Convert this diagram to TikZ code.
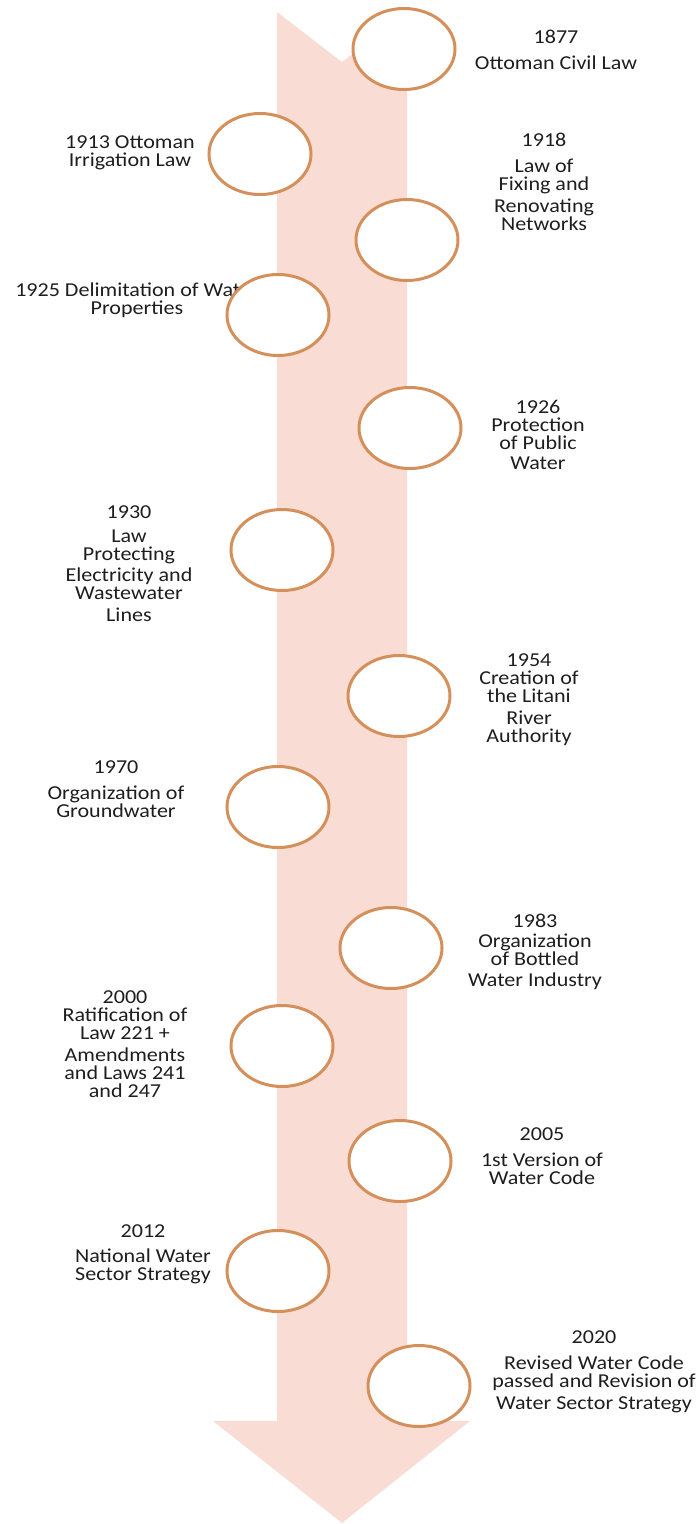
\documentclass[tikz,border=0pt]{standalone}
\usepackage{fontspec}
\setmainfont{Carlito}[FakeStretch=1.12]
\usetikzlibrary{shapes.geometric}
\definecolor{arrowpink}{HTML}{F9DDD5}
\definecolor{ringorange}{HTML}{D48F5B}
\definecolor{labelgray}{HTML}{1E1E1E}

\begin{document}
\begin{tikzpicture}[x=1pt, y=-1pt,
		ring/.style={ellipse, draw=ringorange, line width=3pt, fill=white, minimum width=102pt, minimum height=81pt, inner sep=0pt},
		yearlabel/.style={align=center, text=labelgray, inner sep=0pt, font=\fontsize{19.7}{18}\selectfont}]
		%%%%% START %%%%%
		
		\useasboundingbox (0, 0) rectangle (700, 1524);
		
		% the big arrow
		\fill[arrowpink] (277, 12) -- (342, 62) -- (407, 12) -- (407, 1421) -- (470, 1421)
			-- (342, 1523) -- (213, 1421) -- (277, 1421) -- cycle;
		
		% labels, right side
		\node[yearlabel] (t1877) at (556, 50) {1877\\[8pt]Ottoman Civil Law};
		\node[yearlabel] (t1918) at (544, 182) {1918\\[8pt]Law of\\Fixing and\\[4pt]Renovating\\Networks};
		\node[yearlabel] (t1926) at (538, 435) {1926\\Protection\\of Public\\[2pt]Water};
		\node[yearlabel] (t1954) at (529, 700) {1954\\Creation of\\the Litani\\[4pt]River\\Authority};
		\node[yearlabel] (t1983) at (535, 952) {1983\\[2pt]Organization\\of Bottled\\[3pt]Water Industry};
		\node[yearlabel] (t2005) at (542, 1156) {2005\\[8pt]1st Version of\\Water Code};
		\node[yearlabel] (t2020) at (594, 1372) {2020\\[8pt]Revised Water Code\\passed and Revision of\\[4pt]Water Sector Strategy};
		
		% labels, left side
		\node[yearlabel] (t1913) at (130, 153) {1913 Ottoman\\Irrigation Law};
		\node[yearlabel] (t1925) at (137, 300) {1925 Delimitation of Water\\Properties};
		\node[yearlabel] (t1930) at (129, 564) {1930\\[6pt]Law\\Protecting\\[3pt]Electricity and\\Wastewater\\[4pt]Lines};
		\node[yearlabel] (t1970) at (116, 789) {1970\\[8pt]Organization of\\Groundwater};
		\node[yearlabel] (t2000) at (125, 1044) {2000\\Ratification of\\Law 221 +\\[4pt]Amendments\\and Laws 241\\and 247};
		\node[yearlabel] (t2012) at (143, 1254) {2012\\[7pt]National Water\\Sector Strategy};
		
		% rings on the arrow
		\node[ring] (c1877) at (404, 49) {};
		\node[ring] (c1913) at (260, 154) {};
		\node[ring] (c1918) at (407, 240) {};
		\node[ring] (c1925) at (278, 315) {};
		\node[ring] (c1926) at (410, 428) {};
		\node[ring] (c1930) at (282, 550) {};
		\node[ring] (c1954) at (399, 696) {};
		\node[ring] (c1970) at (278, 807) {};
		\node[ring] (c1983) at (391, 948) {};
		\node[ring] (c2000) at (282, 1046) {};
		\node[ring] (c2005) at (400, 1161) {};
		\node[ring] (c2012) at (278, 1271) {};
		\node[ring] (c2020) at (419, 1386) {};
		
		%%%%% END %%%%%
	\end{tikzpicture}
\end{document}
